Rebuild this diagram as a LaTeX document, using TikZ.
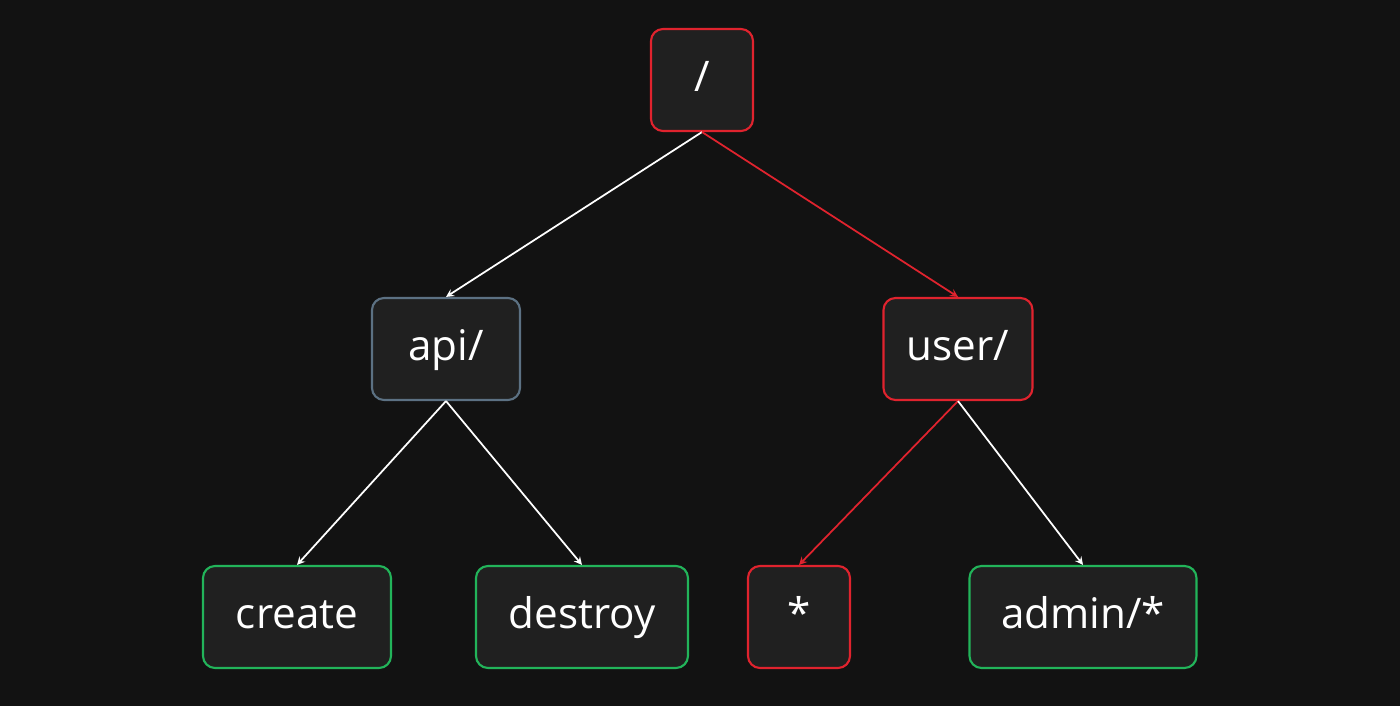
\documentclass[tikz,border=0pt]{standalone}
\usepackage{fontspec}
\setmainfont{Open Sans}
\usetikzlibrary{backgrounds}
\definecolor{bgdark}{HTML}{121212}
\definecolor{boxfill}{HTML}{202020}
\definecolor{hotred}{HTML}{E0232E}
\definecolor{slate}{HTML}{5C7183}
\definecolor{leafgreen}{HTML}{22B45A}
\begin{document}
\begin{tikzpicture}[background rectangle/.style={fill=bgdark}, show background
    rectangle,>=stealth,
    route/.style={draw=#1, fill=boxfill, rounded corners=0.24cm, line width=1.2pt,
      minimum height=2.04cm, text=white, font=\fontsize{24}{27}\selectfont,
      inner sep=0pt, text height=0.62cm, text depth=0.16cm},
    link/.style={->, line width=1pt, white}]
    \useasboundingbox (0,0) rectangle (28,14.12);
    \node[route=hotred, minimum width=2.04cm] (root) at (14.04,12.52) {/};
    \node[route=slate, minimum width=2.96cm] (api) at (8.92,7.14) {api/};
    \node[route=hotred, minimum width=2.98cm] (user) at (19.16,7.14) {user/};
    \node[route=leafgreen, minimum width=3.76cm] (create) at (5.94,1.78) {create};
    \node[route=leafgreen, minimum width=4.24cm] (destroy) at (11.64,1.78) {destroy};
    \node[route=hotred, minimum width=2.04cm] (star) at (15.98,1.78) {*};
    \node[route=leafgreen, minimum width=4.54cm] (admin) at (21.66,1.78) {admin/*};
    % edges
    \draw[link] (root.south) -- (api.north);
    \draw[link, hotred] (root.south) -- (user.north);
    \draw[link] (api.south) -- (create.north);
    \draw[link] (api.south) -- (destroy.north);
    \draw[link, hotred] (user.south) -- (star.north);
    \draw[link] (user.south) -- (admin.north);
  \end{tikzpicture}
\end{document}
